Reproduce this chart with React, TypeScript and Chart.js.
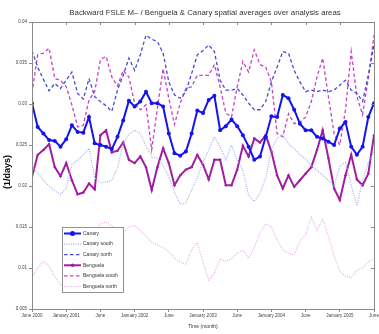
import React, { useEffect, useRef } from "react";
import { Chart, registerables } from "chart.js";
Chart.register(...registerables);

const TITLE = "Backward FSLE M\u2013 / Benguela & Canary spatial averages over analysis areas";
const X_TITLE = "Time (month)";
const Y_TITLE = "(1/days)";
const X_TICK_LABELS = ["June 2000", "January 2001", "June", "January 2002", "June", "January 2003", "June", "January 2004", "June", "January 2005", "June"];
const MONTHS = Array.from({ length: 61 }, (_, i) => i);

const canary = [0.0301, 0.0272, 0.0264, 0.0256, 0.0255, 0.0248, 0.0257, 0.0274, 0.0266, 0.0265, 0.0284, 0.0252, 0.0250, 0.0248, 0.0245, 0.0260,
  0.0280, 0.0304, 0.0297, 0.0303, 0.0315, 0.0301, 0.0301, 0.0297, 0.0264, 0.0240, 0.0237, 0.0242, 0.0264, 0.0292, 0.0289,
  0.0305, 0.0310, 0.0268, 0.0273, 0.0281, 0.0273, 0.0262, 0.0248, 0.0232, 0.0236, 0.0260, 0.0285, 0.0284, 0.0311, 0.0307,
  0.0293, 0.0276, 0.0268, 0.0268, 0.0260, 0.0258, 0.0254, 0.0250, 0.0270, 0.0278, 0.0248, 0.0238, 0.0248, 0.0284, 0.0301];

const canarySouth = [0.0223, 0.0216, 0.0207, 0.0200, 0.0194, 0.0190, 0.0197, 0.0226, 0.0232, 0.0238, 0.0246, 0.0210, 0.0204, 0.0205, 0.0207, 0.0222,
  0.0252, 0.0263, 0.0268, 0.0264, 0.0249, 0.0235, 0.0234, 0.0225, 0.0211, 0.0192, 0.0178, 0.0179, 0.0195, 0.0210, 0.0229,
  0.0244, 0.0260, 0.0248, 0.0232, 0.0250, 0.0232, 0.0219, 0.0189, 0.0181, 0.0191, 0.0210, 0.0244, 0.0258, 0.0263, 0.0251,
  0.0246, 0.0238, 0.0233, 0.0225, 0.0219, 0.0213, 0.0207, 0.0200, 0.0224, 0.0229, 0.0201, 0.0176, 0.0207, 0.0229, 0.0241];

const canaryNorth = [0.0365, 0.0345, 0.0330, 0.0316, 0.0325, 0.0319, 0.0329, 0.0339, 0.0313, 0.0306, 0.0331, 0.0309, 0.0303, 0.0298, 0.0291, 0.0317,
  0.0335, 0.0356, 0.0341, 0.0360, 0.0384, 0.0379, 0.0376, 0.0362, 0.0327, 0.0311, 0.0307, 0.0315, 0.0337, 0.0360, 0.0365,
  0.0372, 0.0364, 0.0329, 0.0317, 0.0317, 0.0319, 0.0311, 0.0301, 0.0293, 0.0293, 0.0303, 0.0327, 0.0345, 0.0364, 0.0362,
  0.0341, 0.0327, 0.0315, 0.0317, 0.0315, 0.0317, 0.0315, 0.0317, 0.0323, 0.0329, 0.0317, 0.0313, 0.0303, 0.0335, 0.0372];

const benguela = [0.0211, 0.0238, 0.0244, 0.0251, 0.0223, 0.0212, 0.0228, 0.0207, 0.0190, 0.0192, 0.0203, 0.0196, 0.0262, 0.0268, 0.0241, 0.0243,
  0.0253, 0.0232, 0.0228, 0.0236, 0.0223, 0.0195, 0.0223, 0.0246, 0.0228, 0.0201, 0.0213, 0.0220, 0.0223, 0.0238, 0.0226,
  0.0208, 0.0232, 0.0232, 0.0201, 0.0201, 0.0220, 0.0249, 0.0236, 0.0258, 0.0253, 0.0262, 0.0242, 0.0213, 0.0197, 0.0213,
  0.0199, 0.0207, 0.0215, 0.0223, 0.0244, 0.0268, 0.0234, 0.0197, 0.0183, 0.0213, 0.0238, 0.0208, 0.0201, 0.0215, 0.0262];

const benguelaSouth = [0.0313, 0.0360, 0.0362, 0.0368, 0.0331, 0.0329, 0.0321, 0.0299, 0.0272, 0.0274, 0.0305, 0.0315, 0.0354, 0.0358, 0.0333, 0.0322,
  0.0341, 0.0333, 0.0301, 0.0293, 0.0299, 0.0244, 0.0295, 0.0343, 0.0307, 0.0275, 0.0301, 0.0319, 0.0321, 0.0335, 0.0335,
  0.0335, 0.0348, 0.0321, 0.0289, 0.0284, 0.0321, 0.0352, 0.0339, 0.0366, 0.0348, 0.0345, 0.0327, 0.0264, 0.0260, 0.0288,
  0.0276, 0.0278, 0.0284, 0.0303, 0.0333, 0.0356, 0.0309, 0.0264, 0.0250, 0.0293, 0.0364, 0.0309, 0.0287, 0.0331, 0.0384];

const benguelaNorth = [0.0089, 0.0100, 0.0108, 0.0102, 0.0089, 0.0080, 0.0079, 0.0085, 0.0097, 0.0112, 0.0128, 0.0143, 0.0154, 0.0156, 0.0151, 0.0146,
  0.0143, 0.0150, 0.0152, 0.0146, 0.0139, 0.0131, 0.0128, 0.0125, 0.0120, 0.0112, 0.0107, 0.0105, 0.0122, 0.0131, 0.0107,
  0.0085, 0.0094, 0.0111, 0.0108, 0.0111, 0.0118, 0.0122, 0.0112, 0.0125, 0.0143, 0.0154, 0.0150, 0.0134, 0.0122, 0.0118,
  0.0116, 0.0133, 0.0141, 0.0162, 0.0146, 0.0160, 0.0139, 0.0115, 0.0096, 0.0090, 0.0088, 0.0097, 0.0100, 0.0107, 0.0112];

const FONT = '"Liberation Sans", Arial, sans-serif';
const AXIS_COLOR = "#8a8a8a";

const textPlugin = {
  id: "texts",
  afterDraw(chart: any) {
    const { ctx, chartArea } = chart;
    const cx = (chartArea.left + chartArea.right) / 2;
    ctx.save();
    ctx.fillStyle = "#333";
    ctx.textAlign = "center";
    ctx.textBaseline = "middle";
    ctx.font = `7.8px ${FONT}`;
    ctx.fillText(TITLE, cx + 2, 13);
    ctx.font = `5px ${FONT}`;
    ctx.fillText(X_TITLE, cx, 327);
    ctx.translate(8, 172);
    ctx.rotate(-Math.PI / 2);
    ctx.fillStyle = "#000";
    ctx.font = `bold 9px ${FONT}`;
    ctx.fillText(Y_TITLE, 0, 0);
    ctx.restore();

    // frame and mirrored ticks
    ctx.save();
    ctx.strokeStyle = AXIS_COLOR;
    ctx.lineWidth = 1;
    ctx.strokeRect(chartArea.left + 0.5, chartArea.top + 0.5, chartArea.right - chartArea.left, chartArea.bottom - chartArea.top);
    const xs = chart.scales.x;
    const ys = chart.scales.y;
    ctx.beginPath();
    xs.ticks.forEach((t: any) => {
      const px = Math.round(xs.getPixelForValue(t.value)) + 0.5;
      ctx.moveTo(px, chartArea.top);
      ctx.lineTo(px, chartArea.top + 3);
    });
    ys.ticks.forEach((t: any) => {
      const py = Math.round(ys.getPixelForValue(t.value)) + 0.5;
      ctx.moveTo(chartArea.right, py);
      ctx.lineTo(chartArea.right - 3, py);
    });
    ctx.stroke();
    ctx.restore();
  },
};

const legendPlugin = {
  id: "boxLegend",
  afterDatasetsDraw(chart: any) {
    const { ctx } = chart;
    const x0 = 62, y0 = 227, w = 61, h = 65;
    ctx.save();
    ctx.fillStyle = "#fff";
    ctx.fillRect(x0, y0, w, h);
    ctx.strokeStyle = "#777";
    ctx.lineWidth = 0.8;
    ctx.strokeRect(x0 + 0.5, y0 + 0.5, w, h);
    chart.data.datasets.forEach((ds: any, i: number) => {
      const y = y0 + 6.5 + i * 10.6;
      ctx.strokeStyle = ds.borderColor;
      ctx.lineWidth = ds.borderWidth;
      ctx.setLineDash(ds.borderDash || []);
      ctx.beginPath();
      ctx.moveTo(x0 + 2, y);
      ctx.lineTo(x0 + 19, y);
      ctx.stroke();
      ctx.setLineDash([]);
      if (ds.pointRadius > 0) {
        ctx.fillStyle = ds.borderColor;
        ctx.beginPath();
        ctx.arc(x0 + 10.5, y, ds.pointRadius + 0.5, 0, Math.PI * 2);
        ctx.fill();
      }
      ctx.fillStyle = "#333";
      ctx.font = `5px ${FONT}`;
      ctx.textAlign = "left";
      ctx.textBaseline = "middle";
      ctx.fillText(ds.label, x0 + 21, y);
    });
    ctx.restore();
  },
};

export default function App() {
  const ref = useRef<HTMLCanvasElement>(null);
  useEffect(() => {
    document.body.style.margin = "0";
    const toPts = (arr: number[]) => arr.map((v, i) => ({ x: MONTHS[i], y: v }));
    const chart = new Chart(ref.current!, {
      type: "line",
      data: {
        datasets: [
          { label: "Canary", data: toPts(canary), borderColor: "#1414f0", backgroundColor: "#1414f0", borderWidth: 2, pointRadius: 2, pointHoverRadius: 2, pointBorderWidth: 0, tension: 0 },
          { label: "Canary south", data: toPts(canarySouth), borderColor: "#9fb1f0", borderWidth: 1.2, borderDash: [1, 1.3], pointRadius: 0, tension: 0 },
          { label: "Canary north", data: toPts(canaryNorth), borderColor: "#4848d4", borderWidth: 1.3, borderDash: [3.5, 2.5], pointRadius: 0, tension: 0 },
          { label: "Benguela", data: toPts(benguela), borderColor: "#a11ea1", backgroundColor: "#a11ea1", borderWidth: 2, pointRadius: 1.2, pointHoverRadius: 1.2, pointBorderWidth: 0, tension: 0 },
          { label: "Benguela south", data: toPts(benguelaSouth), borderColor: "#c444c4", borderWidth: 1.3, borderDash: [3.5, 2.5], pointRadius: 0, tension: 0 },
          { label: "Benguela north", data: toPts(benguelaNorth), borderColor: "#eeaaee", borderWidth: 1.2, borderDash: [1, 1.3], pointRadius: 0, tension: 0 },
        ],
      },
      options: {
        animation: false,
        responsive: true,
        maintainAspectRatio: false,
        layout: { padding: { top: 22, right: 5, left: 0, bottom: 0 } },
        plugins: { legend: { display: false }, title: { display: false }, tooltip: { enabled: false } },
        scales: {
          x: {
            type: "linear",
            min: 0,
            max: 60,
            grid: { display: true, drawOnChartArea: false, tickLength: 3, color: AXIS_COLOR },
            border: { color: AXIS_COLOR },
            ticks: {
              stepSize: 6,
              autoSkip: false,
              maxRotation: 0,
              padding: 1,
              color: "#444",
              font: { size: 4.5, family: FONT },
              callback: (v: any) => X_TICK_LABELS[Math.round(Number(v) / 6)] ?? "",
            },
            afterFit: (s: any) => { s.height = 25; s.paddingLeft = 0; s.paddingRight = 0; },
          },
          y: {
            min: 0.005,
            max: 0.04,
            grid: { display: true, drawOnChartArea: false, tickLength: 3, color: AXIS_COLOR },
            border: { color: AXIS_COLOR },
            ticks: {
              stepSize: 0.005,
              padding: 2,
              color: "#444",
              font: { size: 4.5, family: FONT },
              callback: (v: any) => String(parseFloat(Number(v).toFixed(3))),
            },
            afterFit: (s: any) => { s.width = 32; s.paddingTop = 0; s.paddingBottom = 0; },
          },
        },
      },
      plugins: [legendPlugin, textPlugin],
    });
    return () => chart.destroy();
  }, []);
  return (
    <div style={{ position: "fixed", left: 0, top: 0, width: 379, height: 334, background: "#fff" }}>
      <canvas ref={ref} />
    </div>
  );
}
